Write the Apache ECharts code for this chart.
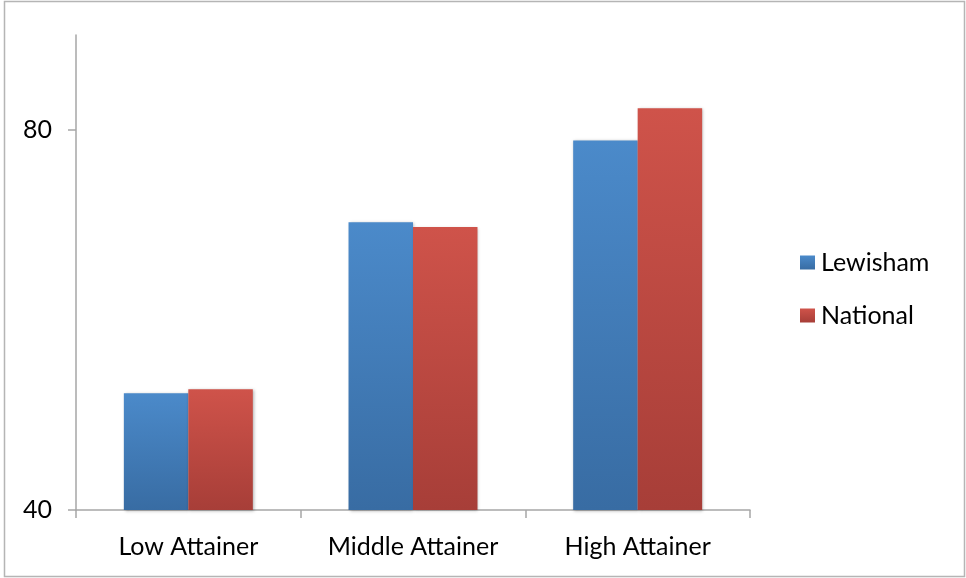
<!DOCTYPE html>
<html>
<head>
<meta charset="utf-8">
<script src="https://cdn.jsdelivr.net/npm/echarts@6/dist/echarts.min.js"></script>
<style>
html,body{margin:0;padding:0;background:#fff;}
#chart{width:966px;height:578px;}
</style>
</head>
<body>
<div id="chart"></div>
<script>
const categories = ['Low Attainer', 'Middle Attainer', 'High Attainer'];
const lewisham = [52.3, 70.3, 78.9];
const national = [52.7, 69.8, 82.3];
const yTicks = [40, 80];

const FONT = 'Lato';
function grad(top, bottom) {
  return new echarts.graphic.LinearGradient(0, 0, 0, 1, [
    { offset: 0, color: top },
    { offset: 1, color: bottom }
  ]);
}
const chart = echarts.init(document.getElementById('chart'), null, { renderer: 'canvas' });
chart.setOption({
  backgroundColor: '#ffffff',
  animation: false,
  textStyle: { fontFamily: FONT },
  graphic: [{
    type: 'rect',
    shape: { x: 4.5, y: 1.5, width: 960, height: 575 },
    style: { fill: 'none', stroke: '#b5b5b5', lineWidth: 1.5 },
    silent: true
  }],
  grid: { left: 76, right: 216, top: 35, bottom: 68, containLabel: false },
  legend: {
    orient: 'vertical',
    left: 800,
    top: 250,
    padding: 0,
    itemWidth: 15,
    itemHeight: 14,
    itemGap: 28,
    icon: 'rect',
    textStyle: { fontFamily: FONT, fontSize: 25, color: '#000', lineHeight: 25, padding: [0, 0, 0, 1] },
    data: ['Lewisham', 'National']
  },
  xAxis: {
    type: 'category',
    data: categories,
    axisLine: { lineStyle: { color: '#a6a6a6', width: 1.5 } },
    axisTick: { show: true, alignWithLabel: false, length: 8, lineStyle: { color: '#a6a6a6', width: 1.5 } },
    axisLabel: { fontFamily: FONT, fontSize: 25, color: '#000', margin: 24 },
    splitLine: { show: false }
  },
  yAxis: {
    type: 'value',
    min: 40,
    max: 90,
    interval: 40,
    axisLine: { show: true, lineStyle: { color: '#a6a6a6', width: 1.5 } },
    axisTick: { show: true, length: 8, customValues: yTicks, lineStyle: { color: '#a6a6a6', width: 1.5 } },
    axisLabel: { fontFamily: FONT, fontSize: 25, color: '#000', margin: 24, customValues: yTicks },
    splitLine: { show: false }
  },
  series: [
    {
      name: 'Lewisham',
      type: 'bar',
      data: lewisham,
      barGap: '0%',
      barCategoryGap: '42.6%',
      itemStyle: {
        color: grad('#4b8aca', '#386ca3'),
        shadowBlur: 3, shadowColor: 'rgba(0,0,0,0.3)', shadowOffsetX: 1, shadowOffsetY: 1
      }
    },
    {
      name: 'National',
      type: 'bar',
      data: national,
      itemStyle: {
        color: grad('#cf534a', '#a73e38'),
        shadowBlur: 3, shadowColor: 'rgba(0,0,0,0.3)', shadowOffsetX: 1, shadowOffsetY: 1
      }
    }
  ]
});
</script>
</body>
</html>
